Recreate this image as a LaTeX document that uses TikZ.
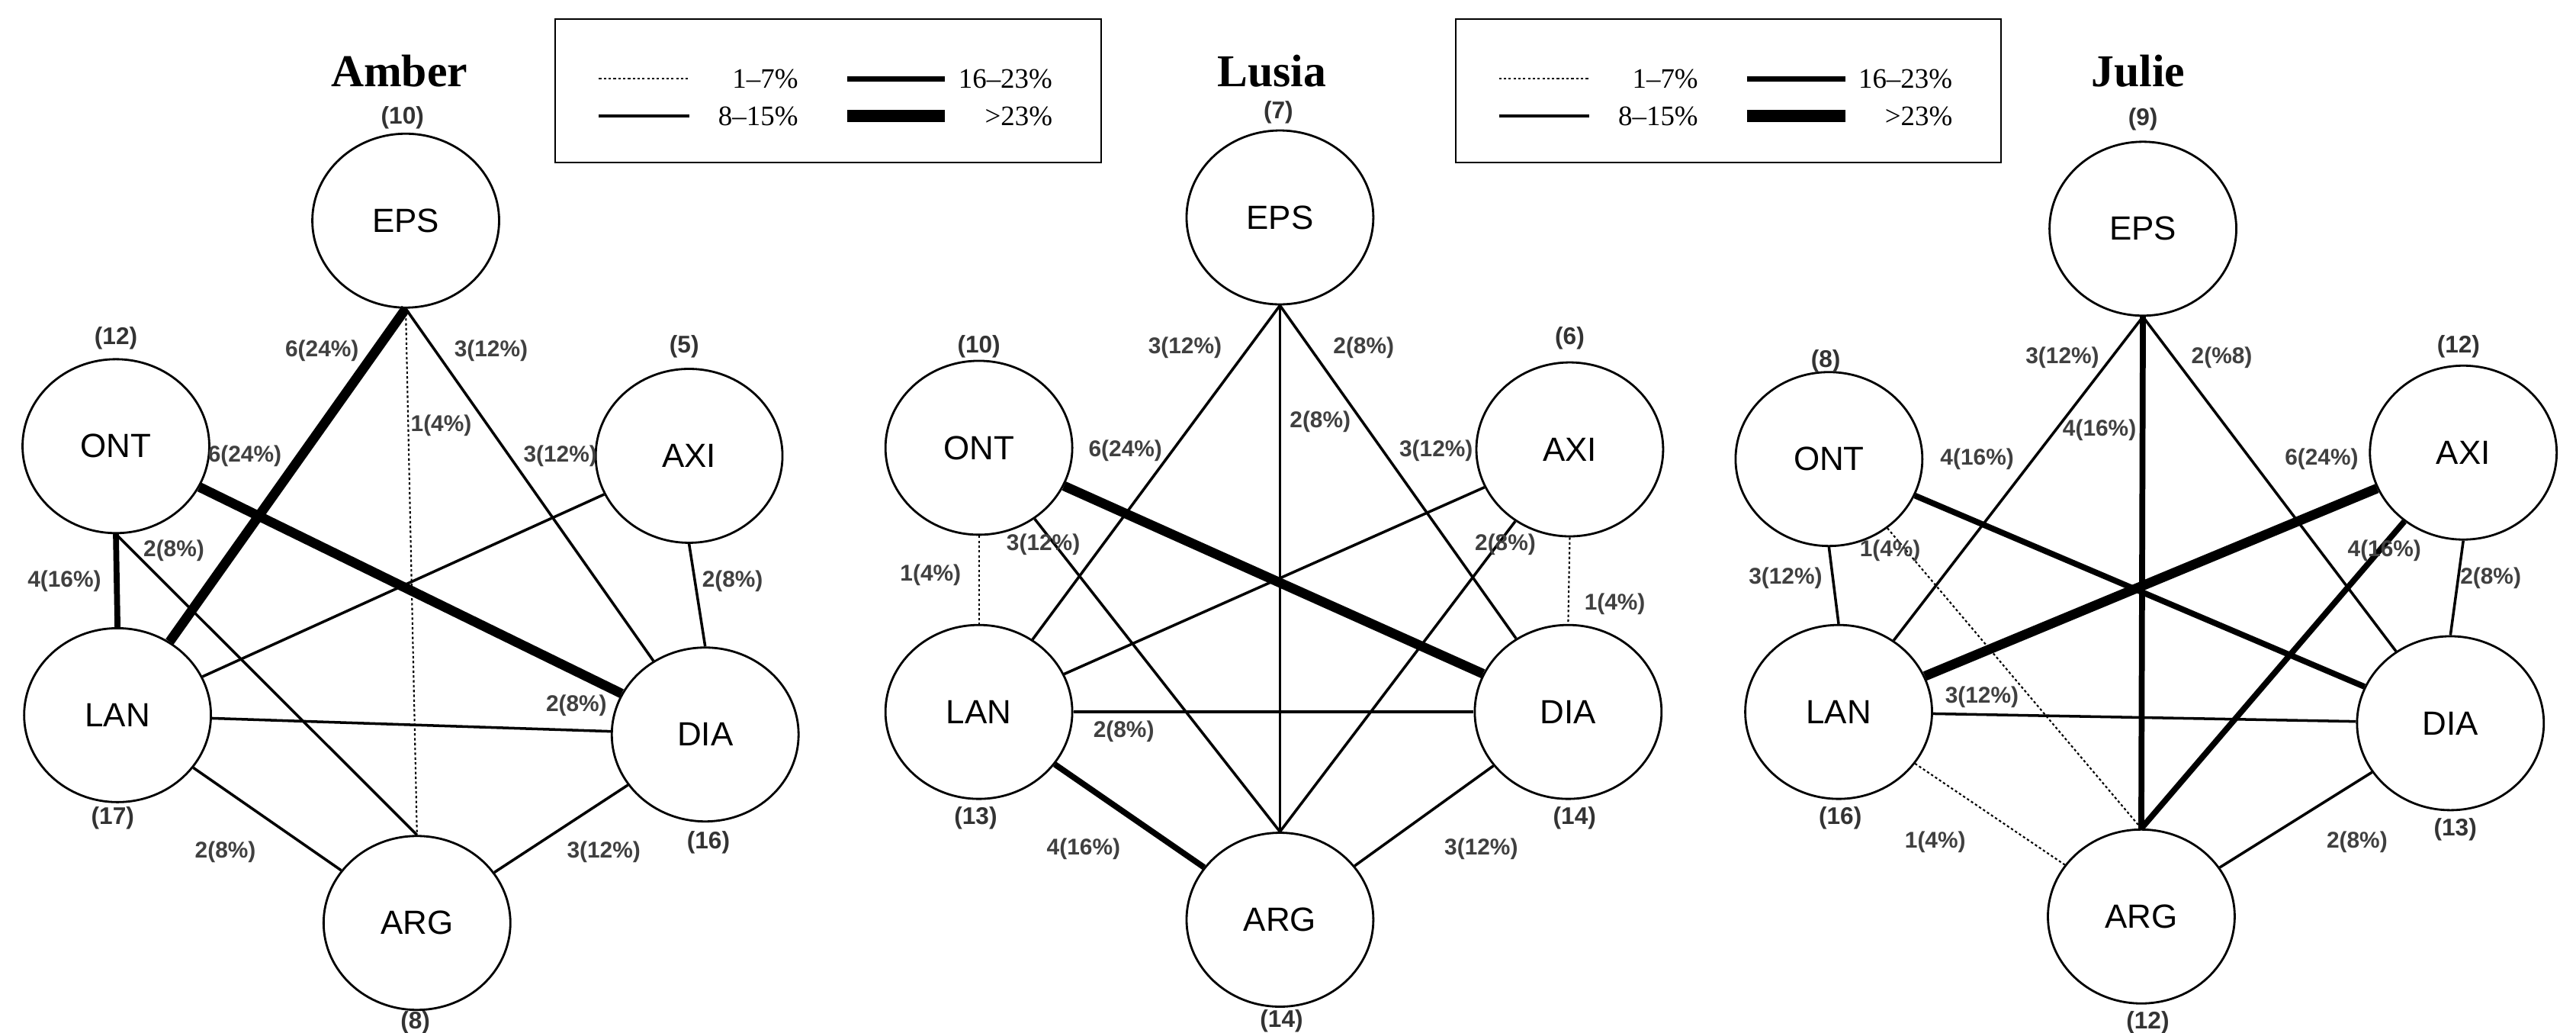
\documentclass[tikz,border=0pt]{standalone}
\usepackage{fontspec}
\setmainfont{Liberation Serif}
\newfontfamily\sans{Liberation Sans}
\usetikzlibrary{shapes.geometric}
\begin{document}
\begin{tikzpicture}[x=0.021113cm,y=-0.021113cm,
 nd/.style={ellipse,draw,line width=0.8pt,minimum width=2.45cm,minimum height=2.28cm,inner sep=0pt,font=\sans\fontsize{12.5}{12.5}\selectfont},
 lb/.style={font=\sans\bfseries\fontsize{8.5}{8.5}\selectfont,text=black!75,inner sep=1pt},
 cnt/.style={font=\sans\bfseries\fontsize{9}{9}\selectfont,text=black!80,inner sep=1pt},
 ttl/.style={font=\bfseries\fontsize{17}{17}\selectfont},
 lg/.style={font=\fontsize{10.5}{10.5}\selectfont,inner sep=0pt},
 dt/.style={line width=0.6pt,dash pattern=on 0.9pt off 0.9pt},
 th/.style={line width=1pt},
 tk/.style={line width=2.2pt},
 vt/.style={line width=3.6pt}]
\useasboundingbox (0,0) rectangle (1600,641);
% legends
\foreach \o/\n in {0/a,559/b}{
 \draw[line width=0.6pt] (345+\o,12) rectangle (684+\o,101);
 \coordinate (l\n1) at (372+\o,49); \coordinate (l\n2) at (428+\o,49);
 \coordinate (l\n3) at (372+\o,72); \coordinate (l\n4) at (428+\o,72);
 \coordinate (l\n5) at (526+\o,49); \coordinate (l\n6) at (587+\o,49);
 \coordinate (l\n7) at (526+\o,72); \coordinate (l\n8) at (587+\o,72);
 \draw[dt] (l\n1)--(l\n2); \draw[line width=1.1pt] (l\n3)--(l\n4);
 \draw[tk] (l\n5)--(l\n6); \draw[line width=4.5pt] (l\n7)--(l\n8);
 \node[lg,anchor=east] at (496+\o,49) {1–7\%};
 \node[lg,anchor=east] at (496+\o,72) {8–15\%};
 \node[lg,anchor=west] at (595+\o,49) {16–23\%};
 \node[lg,anchor=east] at (654+\o,72) {>23\%};
}
% Amber
\node[ttl] at (248,44) {Amber};
\node[nd] (aE) at (252,137) {EPS};
\node[nd] (aO) at (72,277) {ONT};
\node[nd] (aX) at (428,283) {AXI};
\node[nd] (aL) at (73,444) {LAN};
\node[nd] (aD) at (438,456) {DIA};
\node[nd] (aR) at (259,573) {ARG};
\node[cnt] at (250,73) {(10)}; \node[cnt] at (72,210) {(12)};
\node[cnt] at (425,215) {(5)}; \node[cnt] at (70,508) {(17)};
\node[cnt] at (440,523) {(16)}; \node[cnt] at (258,635) {(8)};
\draw[vt] (aE.south)--(aL); \draw[dt] (aE.south)--(aR.north); \draw[th] (aE.south)--(aD);
\draw[vt] (aO)--(aD); \draw[tk] (aO.south)--(aL.north); \draw[th] (aO.south)--(aR.north);
\draw[th] (aX)--(aL); \draw[th] (aX.south)--(aD.north); \draw[th] (aL)--(aD);
\draw[th] (aL)--(aR); \draw[th] (aD)--(aR);
\node[lb] at (200,218) {6(24\%)}; \node[lb] at (274,264) {1(4\%)};
\node[lb] at (305,218) {3(12\%)}; \node[lb] at (152,283) {6(24\%)};
\node[lb] at (40,361) {4(16\%)}; \node[lb] at (108,342) {2(8\%)};
\node[lb] at (348,283) {3(12\%)}; \node[lb] at (455,361) {2(8\%)};
\node[lb] at (358,438) {2(8\%)}; \node[lb] at (140,529) {2(8\%)};
\node[lb] at (375,529) {3(12\%)};
% Lusia
\node[ttl] at (790,44) {Lusia};
\node[nd] (bE) at (795,135) {EPS};
\node[nd] (bO) at (608,278) {ONT};
\node[nd] (bX) at (975,279) {AXI};
\node[nd] (bL) at (608,442) {LAN};
\node[nd] (bD) at (974,442) {DIA};
\node[nd] (bR) at (795,571) {ARG};
\node[cnt] at (794,70) {(7)}; \node[cnt] at (608,215) {(10)};
\node[cnt] at (975,210) {(6)}; \node[cnt] at (606,508) {(13)};
\node[cnt] at (978,508) {(14)}; \node[cnt] at (796,634) {(14)};
\draw[th] (bE.south)--(bL); \draw[th] (bE.south)--(bD); \draw[th] (bE.south)--(bR.north);
\draw[vt] (bO)--(bD); \draw[dt] (bO.south)--(bL.north); \draw[th] (bO)--(bR.north);
\draw[th] (bX)--(bL); \draw[th] (bX)--(bR.north); \draw[dt] (bX.south)--(bD.north);
\draw[th] (bL)--(bD); \draw[tk] (bL)--(bR); \draw[th] (bD)--(bR);
\node[lb] at (736,216) {3(12\%)}; \node[lb] at (847,216) {2(8\%)};
\node[lb] at (820,262) {2(8\%)}; \node[lb] at (699,280) {6(24\%)};
\node[lb] at (578,357) {1(4\%)}; \node[lb] at (648,338) {3(12\%)};
\node[lb] at (892,280) {3(12\%)}; \node[lb] at (935,338) {2(8\%)};
\node[lb] at (1003,375) {1(4\%)}; \node[lb] at (698,454) {2(8\%)};
\node[lb] at (673,527) {4(16\%)}; \node[lb] at (920,527) {3(12\%)};
% Julie
\node[ttl] at (1328,44) {Julie};
\node[nd] (cE) at (1331,142) {EPS};
\node[nd] (cO) at (1136,285) {ONT};
\node[nd] (cX) at (1530,281) {AXI};
\node[nd] (cL) at (1142,442) {LAN};
\node[nd] (cD) at (1522,449) {DIA};
\node[nd] (cR) at (1330,569) {ARG};
\node[cnt] at (1331,74) {(9)}; \node[cnt] at (1134,224) {(8)};
\node[cnt] at (1527,215) {(12)}; \node[cnt] at (1143,508) {(16)};
\node[cnt] at (1525,515) {(13)}; \node[cnt] at (1334,635) {(12)};
\draw[th] (cE.south)--(cL); \draw[th] (cE.south)--(cD); \draw[tk] (cE.south)--(cR.north);
\draw[tk] (cO)--(cD); \draw[th] (cO.south)--(cL.north); \draw[dt] (cO)--(cR.north);
\draw[vt] (cX)--(cL); \draw[tk] (cX)--(cR.north); \draw[th] (cX.south)--(cD.north);
\draw[th] (cL)--(cD); \draw[dt] (cL)--(cR); \draw[th] (cD)--(cR);
\node[lb] at (1281,222) {3(12\%)}; \node[lb] at (1380,222) {2(\%8)};
\node[lb] at (1304,267) {4(16\%)}; \node[lb] at (1228,285) {4(16\%)};
\node[lb] at (1109,359) {3(12\%)}; \node[lb] at (1174,342) {1(4\%)};
\node[lb] at (1442,285) {6(24\%)}; \node[lb] at (1481,342) {4(16\%)};
\node[lb] at (1547,359) {2(8\%)}; \node[lb] at (1231,433) {3(12\%)};
\node[lb] at (1202,523) {1(4\%)}; \node[lb] at (1464,523) {2(8\%)};
\end{tikzpicture}
\end{document}
